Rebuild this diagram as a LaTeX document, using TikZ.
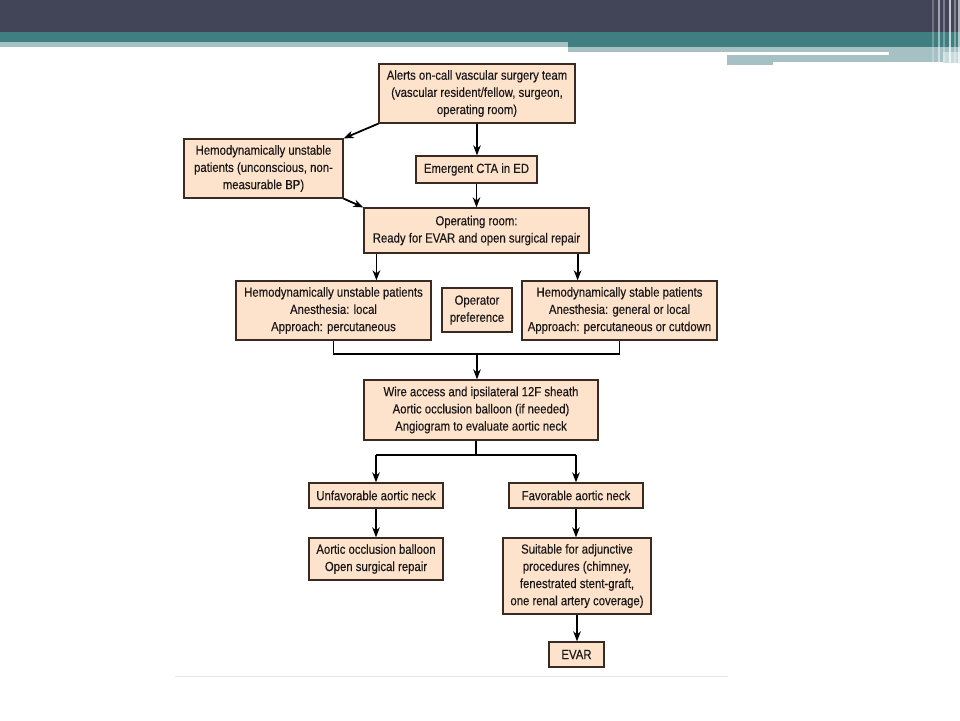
\documentclass[tikz,border=0pt]{standalone}
\usepackage{fontspec}
\setmainfont{Liberation Sans}[FakeStretch=0.86,FakeBold=0.25]
\usetikzlibrary{arrows.meta,calc}
\definecolor{hdark}{HTML}{424457}
\definecolor{hteal}{HTML}{3F7E81}
\definecolor{hlight}{HTML}{A5C1C4}
\definecolor{boxfill}{HTML}{FDE3CC}
\definecolor{boxline}{HTML}{3A2A22}
\definecolor{txt}{HTML}{1A1718}
\begin{document}
\begin{tikzpicture}[x=1pt,y=-1pt,
  box/.style={draw=boxline, fill=boxfill, line width=1.2pt, inner sep=0pt, align=center, text=txt, font=\fontsize{13.2}{17.2}\selectfont},
  arr/.style={-{Stealth[length=10pt,width=7.5pt,inset=3pt]}, line width=1.8pt, black},
  ln/.style={line width=1.8pt, black},
  stripe/.style={line width=2pt}]
\useasboundingbox (0,0) rectangle (960,720);
\fill[white] (0,0) rectangle (960,720);
% header
\fill[hdark] (0,0) rectangle (960,32);
\fill[hteal] (0,32) rectangle (960,42);
\fill[hteal] (568,42) rectangle (960,47);
\fill[hlight] (0,42) rectangle (568,47);
\fill[hlight] (568,47) rectangle (960,52);
\fill[hlight] (889,52) rectangle (943,55);
\fill[hlight] (727,55) rectangle (943,62);
\fill[hlight] (727,62) rectangle (773,65);
\fill[hlight!60] (943,52) rectangle (960,63);
% right vertical stripes
\draw[stripe, white, opacity=0.25] (933,0) -- (933,63);
\draw[stripe, white, opacity=0.5] (939,0) -- (939,63);
\draw[stripe, white, opacity=0.3] (944,0) -- (944,63);
\draw[stripe, white, opacity=0.7] (950,0) -- (950,63);
\draw[stripe, white, opacity=0.35] (955,0) -- (955,63);
\draw[stripe, white, opacity=0.6] (959,0) -- (959,63);
% bottom rule
\draw[line width=1pt, black!10] (175,676) -- (728,676);
% boxes
\node[box, minimum width=196pt, minimum height=59pt] (alerts) at (477,93.5) {Alerts on-call vascular surgery team\\(vascular resident/fellow, surgeon,\\operating room)};
\node[box, minimum width=159pt, minimum height=59pt] (hemo) at (263.5,168.5) {Hemodynamically unstable\\patients (unconscious, non-\\measurable BP)};
\node[box, minimum width=121pt, minimum height=27pt] (cta) at (476.5,169.5) {Emergent CTA in ED};
\node[box, minimum width=225pt, minimum height=45pt] (or) at (476.5,230.5) {Operating room:\\Ready for EVAR and open surgical repair};
\node[box, minimum width=195pt, minimum height=59pt] (left) at (333.5,310.5) {Hemodynamically unstable patients\\Anesthesia: local\\Approach: percutaneous};
\node[box, minimum width=70pt, minimum height=44pt] (oper) at (477,310) {Operator\\preference};
\node[box, minimum width=195pt, minimum height=59pt] (right) at (619.5,310.5) {Hemodynamically stable patients\\Anesthesia: general or local\\Approach: percutaneous or cutdown};
\node[box, minimum width=234pt, minimum height=60pt] (wire) at (481,410) {Wire access and ipsilateral 12F sheath\\Aortic occlusion balloon (if needed)\\Angiogram to evaluate aortic neck};
\node[box, minimum width=134pt, minimum height=25pt] (unfav) at (376,495.5) {Unfavorable aortic neck};
\node[box, minimum width=134pt, minimum height=25pt] (fav) at (576,495.5) {Favorable aortic neck};
\node[box, minimum width=134pt, minimum height=42pt] (aob) at (376,559) {Aortic occlusion balloon\\Open surgical repair};
\node[box, minimum width=148pt, minimum height=76pt] (suit) at (577,576) {Suitable for adjunctive\\procedures (chimney,\\fenestrated stent-graft,\\one renal artery coverage)};
\node[box, minimum width=55pt, minimum height=25pt] (evar) at (576.5,654.5) {EVAR};
% connectors
\draw[arr] (alerts.south west) -- (hemo.north east);
\draw[arr] (alerts.south) -- (alerts.south |- cta.north);
\draw[arr] (cta.south) -- (cta.south |- or.north);
\draw[arr] (hemo.south east) -- (or.north west);
\coordinate (orl) at ([xshift=13pt]or.south west);
\coordinate (orr) at ([xshift=-12pt]or.south east);
\draw[arr] (orl) -- (orl |- left.north);
\draw[arr] (orr) -- (orr |- right.north);
\coordinate (mL) at ([yshift=-13pt]left.south);
\draw[ln] (left.south) -- (mL) -| (right.south);
\coordinate (mC) at (mL -| oper.south);
\draw[arr] (mC) -- (mC |- wire.north);
\coordinate (wS) at ([xshift=-5pt]wire.south);
\coordinate (sp) at ([yshift=-14pt]wS);
\draw[ln] (wS) -- (sp);
\draw[ln] (sp -| unfav.north) -- (sp -| fav.north);
\draw[arr] (sp -| unfav.north) -- (unfav.north);
\draw[arr] (sp -| fav.north) -- (fav.north);
\draw[arr] (unfav.south) -- (aob.north);
\draw[arr] (fav.south) -- (fav.south |- suit.north);
\draw[arr] (suit.south) -- (suit.south |- evar.north);
\end{tikzpicture}
\end{document}
